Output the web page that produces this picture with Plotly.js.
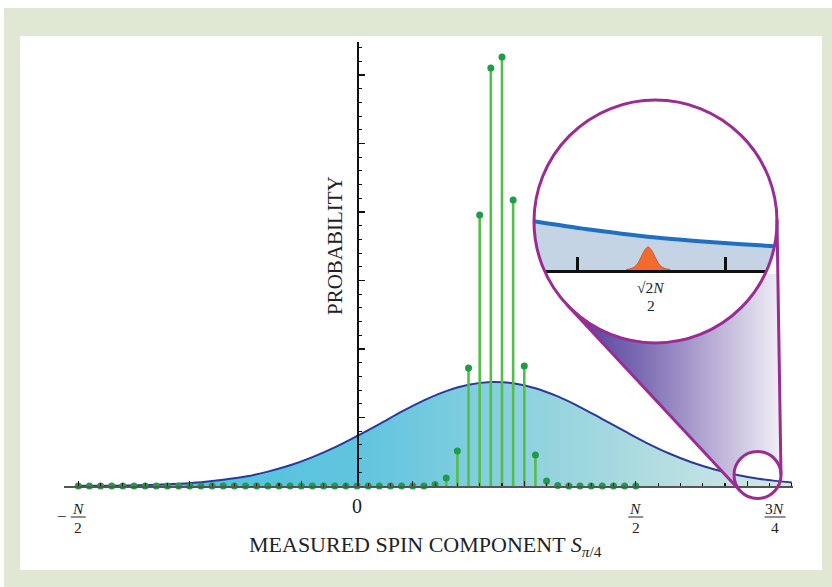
<!DOCTYPE html>
<html>
<head>
<meta charset="utf-8">
<script src="https://cdn.plot.ly/plotly-3.0.1.min.js"></script>
<style>
  html, body { margin:0; padding:0; background:#ffffff; }
  #frame { position:absolute; left:4px; top:8px; width:828px; height:579px; background:#e0e7d3; }
  #panel { position:absolute; left:20px; top:36px; width:802px; height:534px; background:#ffffff; }
  #chart { position:absolute; left:0; top:0; width:832px; height:587px; }
</style>
</head>
<body>
<div id="frame"></div>
<div id="panel"></div>
<div id="chart"></div>
<script>
// ---------------- data ----------------
const spinValues = [-25,-24,-23,-22,-21,-20,-19,-18,-17,-16,-15,-14,-13,-12,-11,-10,-9,-8,-7,-6,-5,-4,-3,-2,-1,
                    0,1,2,3,4,5,6,7,8,9,10,11,12,13,14,15,16,17,18,19,20,21,22,23,24,25];
const stemProb = [0,0,0,0,0,0,0,0,0,0,0,0,0,0,0,0,0,0,0,0,0,0,0,0,0,
                  0,0,0,0,0,0,0,0.0009,0.0047,0.0204,0.0689,0.1583,0.2441,0.2505,0.1670,0.0701,0.0181,0.0029,0.0003,
                  0,0,0,0,0,0,0];
const gaussX = [-25,-22,-20,-18,-16,-14,-12,-10,-8,-6,-4,-2,0,2,4,6,8,10,12,14,16,18,20,22,24,26,28,30,32,34,36,38,39];
const gaussY = [0.0001,0.0002,0.0004,0.0007,0.0013,0.0022,0.0036,0.0055,0.0084,0.0121,0.0169,0.0226,0.0292,0.0362,
                0.0434,0.0500,0.0554,0.0591,0.0607,0.0600,0.0571,0.0523,0.0461,0.0391,0.0320,0.0251,0.0190,0.0139,
                0.0098,0.0066,0.0043,0.0027,0.0021];
// magnified inset (own scale)
const insetX = [34.05,34.66,35.04,35.42,35.84,36.19,36.76,36.84];
const insetY = [48.7,40.7,36.5,32.7,29.5,27.3,24.0,23.6];
const peakX = [35.107,35.176,35.222,35.257,35.291,35.326,35.36,35.394,35.429,35.463,35.498,35.544,35.613];
const peakY = [0.5,1.8,4.5,9,15,20.5,23,20.5,15,9,4.5,1.8,0.5];
const insetTicks = [34.55,36.25];
const xTickLabels = [{x:-25, num:'<i>N</i>', den:'2', minus:true},
                     {x:25, num:'<i>N</i>', den:'2'},
                     {x:37.5, num:'3<i>N</i>', den:'4'}];

// ---------------- geometry ----------------
const W = 832, H = 587;
const px = x => x / W;
const py = y => 1 - y / H;
const bigC = {cx:655.5, cy:221.5, r:121.5};
const smallC = {cx:757.5, cy:475, r:23.5};
const xDom = [64, 793], xRange = [-26.28, 39.10];
const yBase = 486, yTop = 42, pxUnit = 0.000584;
const serif = 'Liberation Serif, Times New Roman, serif';
const purple = '#9a2c94';

const xPix = v => xDom[0] + (v - xRange[0]) / (xRange[1] - xRange[0]) * (xDom[1] - xDom[0]);

// stems
const stemX = [], stemY = [];
spinValues.forEach((v, i) => { if (stemProb[i] > 0.0005) { stemX.push(v, v, null); stemY.push(0, stemProb[i], null); } });

// cone polygon (tangents between the two circles)
const dx = smallC.cx - bigC.cx, dy = smallC.cy - bigC.cy;
const D = Math.hypot(dx, dy), phi = Math.atan2(dy, dx), a = Math.asin((bigC.r - smallC.r) / D);
const nR = phi - (Math.PI / 2 - a), nL = phi + (Math.PI / 2 - a);
const onC = (c, t) => [c.cx + c.r * Math.cos(t), c.cy + c.r * Math.sin(t)];
const T1L = onC(bigC, nL), T2L = onC(smallC, nL), T1R = onC(bigC, nR), T2R = onC(smallC, nR);
const coneX = [], coneY = [];
const pushP = p => { coneX.push(p[0]); coneY.push(p[1]); };
pushP(T1L); pushP(T2L);
for (let k = 0; k <= 60; k++) pushP(onC(smallC, nL + (nR + 2 * Math.PI - nL) * k / 60));
pushP(T1R);
for (let k = 0; k <= 80; k++) pushP(onC(bigC, nR + (nL - nR) * k / 80));

// mask for inset (rectangle minus circle)
const insetBox = {x0:533, x1:778, y0:199, y1:274};
let mask = `M${px(insetBox.x0)},${py(insetBox.y0)}L${px(insetBox.x1)},${py(insetBox.y0)}L${px(insetBox.x1)},${py(insetBox.y1)}L${px(insetBox.x0)},${py(insetBox.y1)}Z`;
for (let k = 0; k <= 120; k++) {
  const p = onC({cx:bigC.cx, cy:bigC.cy, r:bigC.r + 0.5}, 2 * Math.PI * k / 120);
  mask += (k === 0 ? 'M' : 'L') + px(p[0]) + ',' + py(p[1]);
}
mask += 'Z';

// ---------------- traces ----------------
const traces = [
  { x: gaussX, y: gaussY, type:'scatter', mode:'lines', xaxis:'x', yaxis:'y',
    line:{color:'#2b3a98', width:2, shape:'spline'}, fill:'tozeroy',
    fillgradient:{type:'horizontal', colorscale:[[0,'#45c3e3'],[0.4,'#62c4de'],[0.75,'#a6d9df'],[1,'#d6e8e6']]},
    cliponaxis:false, hoverinfo:'skip' },
  { x: stemX, y: stemY, type:'scatter', mode:'lines', xaxis:'x', yaxis:'y',
    line:{color:'#55bd4c', width:2.6}, cliponaxis:false, hoverinfo:'skip' },
  { x: spinValues, y: stemProb, type:'scatter', mode:'markers', xaxis:'x', yaxis:'y',
    marker:{color:'#1f9c4a', size:7}, cliponaxis:false, hoverinfo:'skip' },
  { x: coneX, y: coneY, type:'scatter', mode:'lines', xaxis:'x2', yaxis:'y2',
    line:{width:0, color:'rgba(0,0,0,0)'}, fill:'toself',
    fillgradient:{type:'horizontal', colorscale:[[0,'#4b3c96'],[0.35,'#7c6cb3'],[0.7,'#bbb1d7'],[1,'#f1eff6']]},
    hoverinfo:'skip' },
  { x: insetX, y: insetY, type:'scatter', mode:'lines', xaxis:'x3', yaxis:'y3',
    line:{color:'#1f6fc2', width:4, shape:'spline'}, fill:'tozeroy', fillcolor:'#c4d4e5',
    cliponaxis:true, hoverinfo:'skip' },
  { x: peakX, y: peakY, type:'scatter', mode:'lines', xaxis:'x3', yaxis:'y3',
    line:{color:'#d9532a', width:1, shape:'spline'}, fill:'tozeroy', fillcolor:'#f26a2e',
    cliponaxis:false, hoverinfo:'skip' }
];

// ---------------- annotations & shapes ----------------
const ann = [];
const shapes = [];
const txt = (x, y, t, size, extra) => ann.push(Object.assign({x:px(x), y:py(y), xref:'paper', yref:'paper', text:t,
  showarrow:false, xanchor:'center', yanchor:'middle', font:{family:serif, size:size, color:'#222'}}, extra || {}));

xTickLabels.forEach(t => {
  const cx = xPix(t.x);
  txt(cx, 508, t.num, 15.5);
  txt(cx, 527, t.den, 15.5);
  const half = t.den === '4' ? 10.5 : 7.5;
  shapes.push({type:'line', xref:'paper', yref:'paper', x0:px(cx - half), x1:px(cx + half), y0:py(517), y1:py(517),
               line:{color:'#222', width:1}, layer:'above'});
  if (t.minus) txt(cx - 16, 516, '\u2212', 17);
});
txt(xPix(0), 506, '0', 20);
txt(426, 546, 'MEASURED SPIN COMPONENT <i>S</i><sub><i>\u03c0</i>/4</sub>', 22);
txt(335, 246, 'PROBABILITY', 21, {textangle:-90});
// inset label
txt(651, 287, '\u221a2<i>N</i>', 15.5);
txt(651, 305, '2', 15.5);
shapes.push({type:'line', xref:'paper', yref:'paper', x0:px(636), x1:px(666), y0:py(295), y1:py(295),
             line:{color:'#222', width:1}, layer:'above'});

// mask + circle outlines + tangent lines
shapes.push({type:'path', xref:'paper', yref:'paper', path:mask, fillrule:'evenodd', fillcolor:'#ffffff',
             line:{width:0}, layer:'above'});
shapes.push({type:'line', xref:'paper', yref:'paper', x0:px(T1L[0]), y0:py(T1L[1]), x1:px(T2L[0]), y1:py(T2L[1]),
             line:{color:purple, width:3}, layer:'above'});
shapes.push({type:'line', xref:'paper', yref:'paper', x0:px(T1R[0]), y0:py(T1R[1]), x1:px(T2R[0]), y1:py(T2R[1]),
             line:{color:purple, width:3}, layer:'above'});
[bigC, smallC].forEach(c => shapes.push({type:'circle', xref:'paper', yref:'paper',
  x0:px(c.cx - c.r), x1:px(c.cx + c.r), y0:py(c.cy + c.r), y1:py(c.cy - c.r),
  line:{color:purple, width:3}, fillcolor:'rgba(0,0,0,0)', layer:'above'}));

// ---------------- layout ----------------
const layout = {
  width:W, height:H, margin:{l:0, r:0, t:0, b:0, pad:0},
  paper_bgcolor:'rgba(0,0,0,0)', plot_bgcolor:'rgba(0,0,0,0)', showlegend:false,
  xaxis:{domain:[px(xDom[0]), px(xDom[1])], range:xRange, anchor:'y', showgrid:false, zeroline:false,
         showline:true, linecolor:'#555', linewidth:2, ticks:'inside', tickmode:'linear', tick0:5, dtick:10,
         ticklen:5, tickwidth:1.3, tickcolor:'#111', showticklabels:false,
         minor:{tick0:1, dtick:2, ticks:'inside', ticklen:3, tickwidth:1.1, tickcolor:'#111'}, fixedrange:true},
  yaxis:{domain:[py(yBase), py(yTop)], range:[0, (yBase - yTop) * pxUnit], anchor:'free', position:px(357),
         showgrid:false, zeroline:false, showline:true, linecolor:'#111', linewidth:1.5,
         ticks:'inside', tickmode:'linear', tick0:0, dtick:0.04, ticklen:6, tickwidth:1.2, tickcolor:'#111',
         showticklabels:false, minor:{dtick:0.008, ticks:'inside', ticklen:3, tickwidth:1, tickcolor:'#111'},
         fixedrange:true},
  xaxis2:{domain:[0,1], range:[0, W], anchor:'y2', visible:false, fixedrange:true},
  yaxis2:{domain:[0,1], range:[H, 0], anchor:'x2', visible:false, fixedrange:true},
  xaxis3:{domain:[px(534), px(777)], range:[34.05, 36.84], anchor:'y3', showgrid:false, zeroline:false,
          showline:true, linecolor:'#111', linewidth:3, ticks:'inside', tickmode:'array', tickvals:insetTicks,
          ticklen:13, tickwidth:3, tickcolor:'#111', showticklabels:false, fixedrange:true},
  yaxis3:{domain:[py(270), py(200)], range:[0, 70], anchor:'x3', visible:false, fixedrange:true},
  annotations:ann, shapes:shapes
};

Plotly.newPlot('chart', traces, layout, {staticPlot:true, displayModeBar:false});
</script>
</body>
</html>
